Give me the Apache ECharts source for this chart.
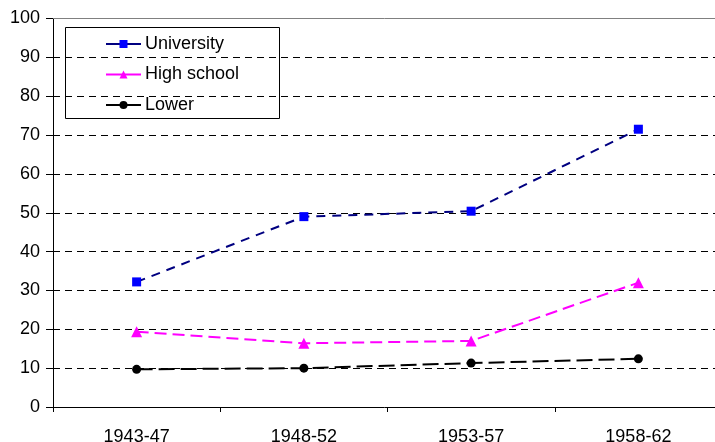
<!DOCTYPE html>
<html>
<head>
<meta charset="utf-8">
<script src="https://cdn.jsdelivr.net/npm/echarts@6/dist/echarts.min.js"></script>
<style>
  html, body { margin: 0; padding: 0; background: #fff; }
  #chart { width: 715px; height: 442px; }
</style>
</head>
<body>
<div id="chart"></div>
<script>
// Periods on the category axis
const periods = ['1943-47', '1948-52', '1953-57', '1958-62'];

// Share (%) per education level
const university = [32.2, 49.0, 50.4, 71.5];
const highSchool = [19.4, 16.4, 17.0, 32.0];
const lower = [9.7, 10.0, 11.3, 12.4];

// Value axis range and step
const yMin = 0;
const yMax = 100;
const yStep = 10;

const font = 'Liberation Sans, Arial, sans-serif';

const chart = echarts.init(document.getElementById('chart'), null, { renderer: 'canvas' });

chart.setOption({
  animation: false,
  backgroundColor: '#ffffff',
  // plot area runs a little past the right edge of the canvas
  grid: { left: 53, width: 669, top: 18.5, height: 388.5, containLabel: false, outerBoundsMode: 'none' },
  xAxis: [{
    type: 'category',
    data: periods,
    boundaryGap: true,
    axisLine: { lineStyle: { color: '#000', width: 1 } },
    axisTick: { show: true, length: 5, lineStyle: { color: '#000' } },
    axisLabel: { color: '#000', fontSize: 18, fontFamily: font, margin: 21 },
    splitLine: { show: false }
  }, {
    // solid frame line along the top of the plot
    type: 'category',
    data: periods,
    position: 'top',
    axisLine: { lineStyle: { color: '#808080', width: 1 } },
    axisTick: { show: false },
    axisLabel: { show: false },
    splitLine: { show: false }
  }],
  yAxis: {
    type: 'value',
    min: yMin,
    max: yMax,
    interval: yStep,
    axisLine: { show: true, lineStyle: { color: '#000', width: 1 } },
    axisTick: { show: true, length: 7, lineStyle: { color: '#000' } },
    axisLabel: { color: '#000', fontSize: 18, fontFamily: font, margin: 13 },
    splitLine: { show: true, lineStyle: { color: '#000', width: 1, type: [7, 5] } }
  },
  legend: {
    orient: 'vertical',
    left: 65,
    top: 27,
    padding: [7, 20, 4, 40],
    itemGap: 10.5,
    itemWidth: 35,
    itemHeight: 10,
    backgroundColor: 'transparent',
    borderWidth: 0,
    lineStyle: { type: 'solid' },
    textStyle: { color: '#000', fontSize: 18, fontFamily: font, lineHeight: 20, padding: [0, 0, 0, -1] },
    data: ['University', 'High school', 'Lower']
  },
  graphic: [{
    type: 'rect',
    left: 65,
    top: 27,
    shape: { width: 214, height: 91 },
    style: { fill: '#fff', stroke: '#000', lineWidth: 1 },
    z: 0,
    zlevel: 0
  }],
  series: [{
    name: 'University',
    type: 'line',
    data: university,
    symbol: 'rect',
    symbolSize: 9,
    itemStyle: { color: '#0000ff' },
    lineStyle: { color: '#000080', width: 2, type: [9, 7] },
    z: 5
  }, {
    name: 'High school',
    type: 'line',
    data: highSchool,
    symbol: 'triangle',
    symbolSize: 11,
    itemStyle: { color: '#ff00ff' },
    lineStyle: { color: '#ff00ff', width: 2, type: [12, 6] },
    z: 5
  }, {
    name: 'Lower',
    type: 'line',
    data: lower,
    symbol: 'circle',
    symbolSize: 9,
    itemStyle: { color: '#000000' },
    lineStyle: { color: '#000000', width: 2, type: [16, 6] },
    z: 5
  }]
});
</script>
</body>
</html>
